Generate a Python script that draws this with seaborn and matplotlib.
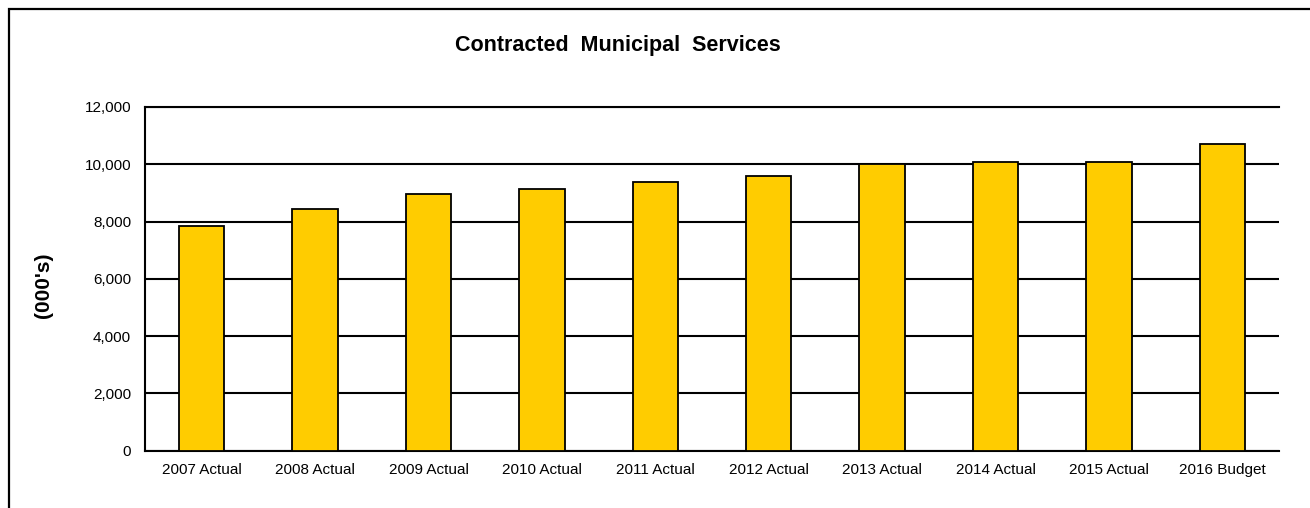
import matplotlib
matplotlib.use("Agg")
import matplotlib.pyplot as plt
import seaborn as sns
import pandas as pd
from matplotlib.patches import Rectangle
from matplotlib.ticker import FuncFormatter, FixedLocator

categories = ["2007 Actual", "2008 Actual", "2009 Actual", "2010 Actual", "2011 Actual",
              "2012 Actual", "2013 Actual", "2014 Actual", "2015 Actual", "2016 Budget"]
values = [7830, 8430, 8975, 9150, 9385, 9580, 10000, 10065, 10065, 10720]
y_ticks = [0, 2000, 4000, 6000, 8000, 10000, 12000]
title = "Contracted  Municipal  Services"
y_label = "(000's)"

sns.set_style("white")
plt.rcParams["font.family"] = ["Liberation Sans", "DejaVu Sans"]
plt.rcParams["text.color"] = "black"
plt.rcParams["axes.labelcolor"] = "black"
plt.rcParams["xtick.color"] = "black"
plt.rcParams["ytick.color"] = "black"

df = pd.DataFrame({"category": categories, "value": values})

W, H = 1310, 508
fig = plt.figure(figsize=(W / 100, H / 100), dpi=100)
ax = fig.add_axes([145 / W, 1 - 450.5 / H, (1279 - 145) / W, (450.5 - 107) / H])

sns.barplot(data=df, x="category", y="value", color="#FFCC00", width=0.4,
            edgecolor="black", linewidth=1.3, saturation=1, ax=ax, zorder=3)

ax.set_xlim(-0.5, len(categories) - 0.5)
ax.set_ylim(0, 12000)
ax.set_yticks(y_ticks)
ax.yaxis.set_major_formatter(FuncFormatter(lambda v, p: f"{int(v):,}"))
ax.grid(axis="y", color="black", linewidth=1.5, zorder=0)
ax.grid(axis="x", visible=False)
ax.set_axisbelow(True)

ax.xaxis.set_minor_locator(FixedLocator([i - 0.5 for i in range(len(categories) + 1)]))
ax.tick_params(axis="x", which="major", length=0, labelsize=11, pad=9,
               colors="black", labelcolor="black")
ax.tick_params(axis="x", which="minor", length=5, width=1.5, direction="out", color="black")
ax.tick_params(axis="y", length=5, width=1.5, direction="out", labelsize=11, pad=5,
               color="black", labelcolor="black")
ax.set_xlabel("")
ax.set_ylabel("")

ax.spines["right"].set_visible(False)
for s in ["left", "bottom", "top"]:
    ax.spines[s].set_visible(True)
    ax.spines[s].set_color("black")
    ax.spines[s].set_linewidth(1.5)

fig.text(617.5 / W, 1 - 45.5 / H, title, ha="center", va="center",
         fontsize=15.5, fontweight="bold", color="black")
fig.text(43 / W, 1 - 285 / H, y_label, ha="center", va="center", rotation=90,
         fontsize=15, fontweight="bold", color="black")

fig.patches.append(Rectangle((8.5 / W, -0.1), 1.2, 1 - 9 / H + 0.1, transform=fig.transFigure,
                             fill=False, edgecolor="black", linewidth=1.6))

fig.savefig("out.png", dpi=100)
